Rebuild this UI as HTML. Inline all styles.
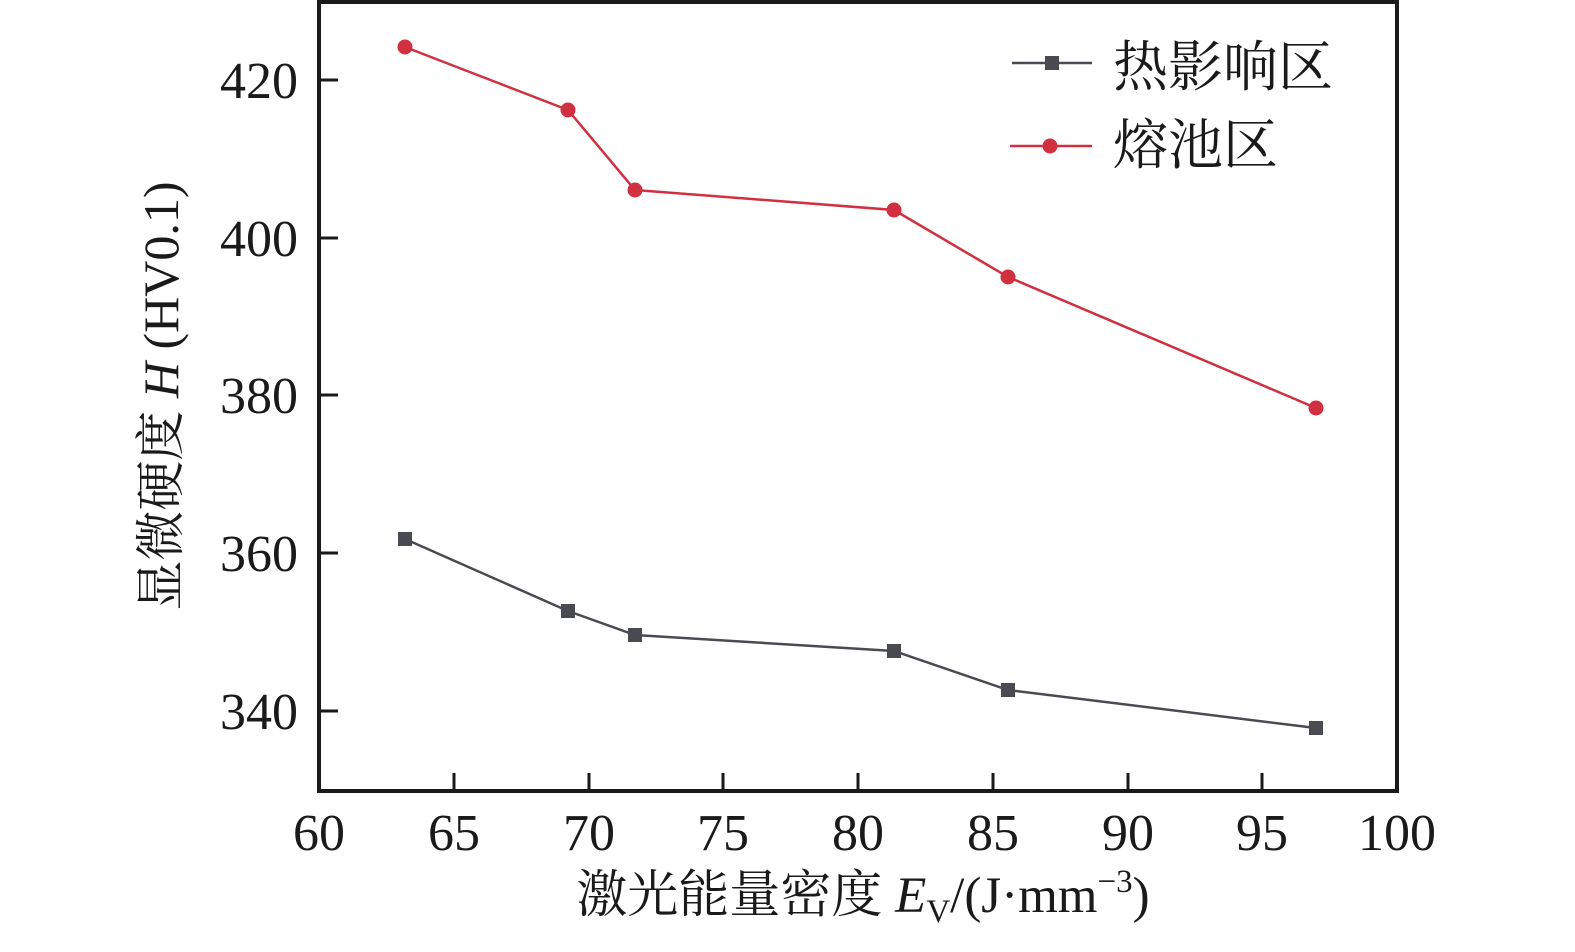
<!DOCTYPE html>
<html><head><meta charset="utf-8"><style>
html,body{margin:0;padding:0;background:#fff;}
svg text{font-family:"Liberation Serif","Noto Serif CJK SC",serif;fill:#1a1a1a;}
</style></head><body>
<svg width="1575" height="947" viewBox="0 0 1575 947" xmlns="http://www.w3.org/2000/svg">
<rect x="319" y="2" width="1078" height="789" fill="none" stroke="#1a1a1a" stroke-width="4"/>
<g stroke="#1a1a1a" stroke-width="3">
<line x1="454" y1="791" x2="454" y2="773"/><line x1="589" y1="791" x2="589" y2="773"/>
<line x1="723" y1="791" x2="723" y2="773"/><line x1="858" y1="791" x2="858" y2="773"/>
<line x1="993" y1="791" x2="993" y2="773"/><line x1="1128" y1="791" x2="1128" y2="773"/>
<line x1="1262" y1="791" x2="1262" y2="773"/>
<line x1="319" y1="711" x2="338" y2="711"/><line x1="319" y1="553" x2="338" y2="553"/>
<line x1="319" y1="395" x2="338" y2="395"/><line x1="319" y1="238" x2="338" y2="238"/>
<line x1="319" y1="80" x2="338" y2="80"/>
</g>
<g font-size="52" text-anchor="middle">
<text x="319" y="850">60</text><text x="454" y="850">65</text><text x="589" y="850">70</text>
<text x="723" y="850">75</text><text x="858" y="850">80</text><text x="993" y="850">85</text>
<text x="1128" y="850">90</text><text x="1262" y="850">95</text><text x="1397" y="850">100</text>
</g>
<g font-size="52" text-anchor="end">
<text x="298" y="729">340</text><text x="298" y="571">360</text><text x="298" y="413">380</text>
<text x="298" y="256">400</text><text x="298" y="98">420</text>
</g>
<text x="863" y="912" font-size="51" text-anchor="middle">激光能量密度 <tspan font-style="italic">E</tspan><tspan font-size="33" dy="10">V</tspan><tspan dy="-10">/(J·mm</tspan><tspan font-size="33" dy="-20">−3</tspan><tspan dy="20">)</tspan></text>
<text transform="translate(178,396) rotate(-90)" font-size="50" text-anchor="middle">显微硬度 <tspan font-style="italic">H</tspan> (HV0.1)</text>
<polyline fill="none" stroke="#4a4a52" stroke-width="2.5" points="405,539 568,611 635,635 894,651 1008,690 1316,728"/>
<g fill="#4a4a52">
<rect x="398" y="532" width="14" height="14"/><rect x="561" y="604" width="14" height="14"/>
<rect x="628" y="628" width="14" height="14"/><rect x="887" y="644" width="14" height="14"/>
<rect x="1001" y="683" width="14" height="14"/><rect x="1309" y="721" width="14" height="14"/>
</g>
<polyline fill="none" stroke="#d0303f" stroke-width="2.5" points="405,47 568,110 635,190 894,210 1008,277 1316,408"/>
<g fill="#d0303f">
<circle cx="405" cy="47" r="7.5"/><circle cx="568" cy="110" r="7.5"/><circle cx="635" cy="190" r="7.5"/>
<circle cx="894" cy="210" r="7.5"/><circle cx="1008" cy="277" r="7.5"/><circle cx="1316" cy="408" r="7.5"/>
</g>
<line x1="1012" y1="63" x2="1092" y2="63" stroke="#4a4a52" stroke-width="2.5"/>
<rect x="1045" y="56" width="14" height="14" fill="#4a4a52"/>
<line x1="1010" y1="146" x2="1092" y2="146" stroke="#d0303f" stroke-width="2.5"/>
<circle cx="1050" cy="146" r="7.5" fill="#d0303f"/>
<text x="1113" y="86" font-size="55">热影响区</text>
<text x="1113" y="164" font-size="55">熔池区</text>
</svg>
</body></html>
